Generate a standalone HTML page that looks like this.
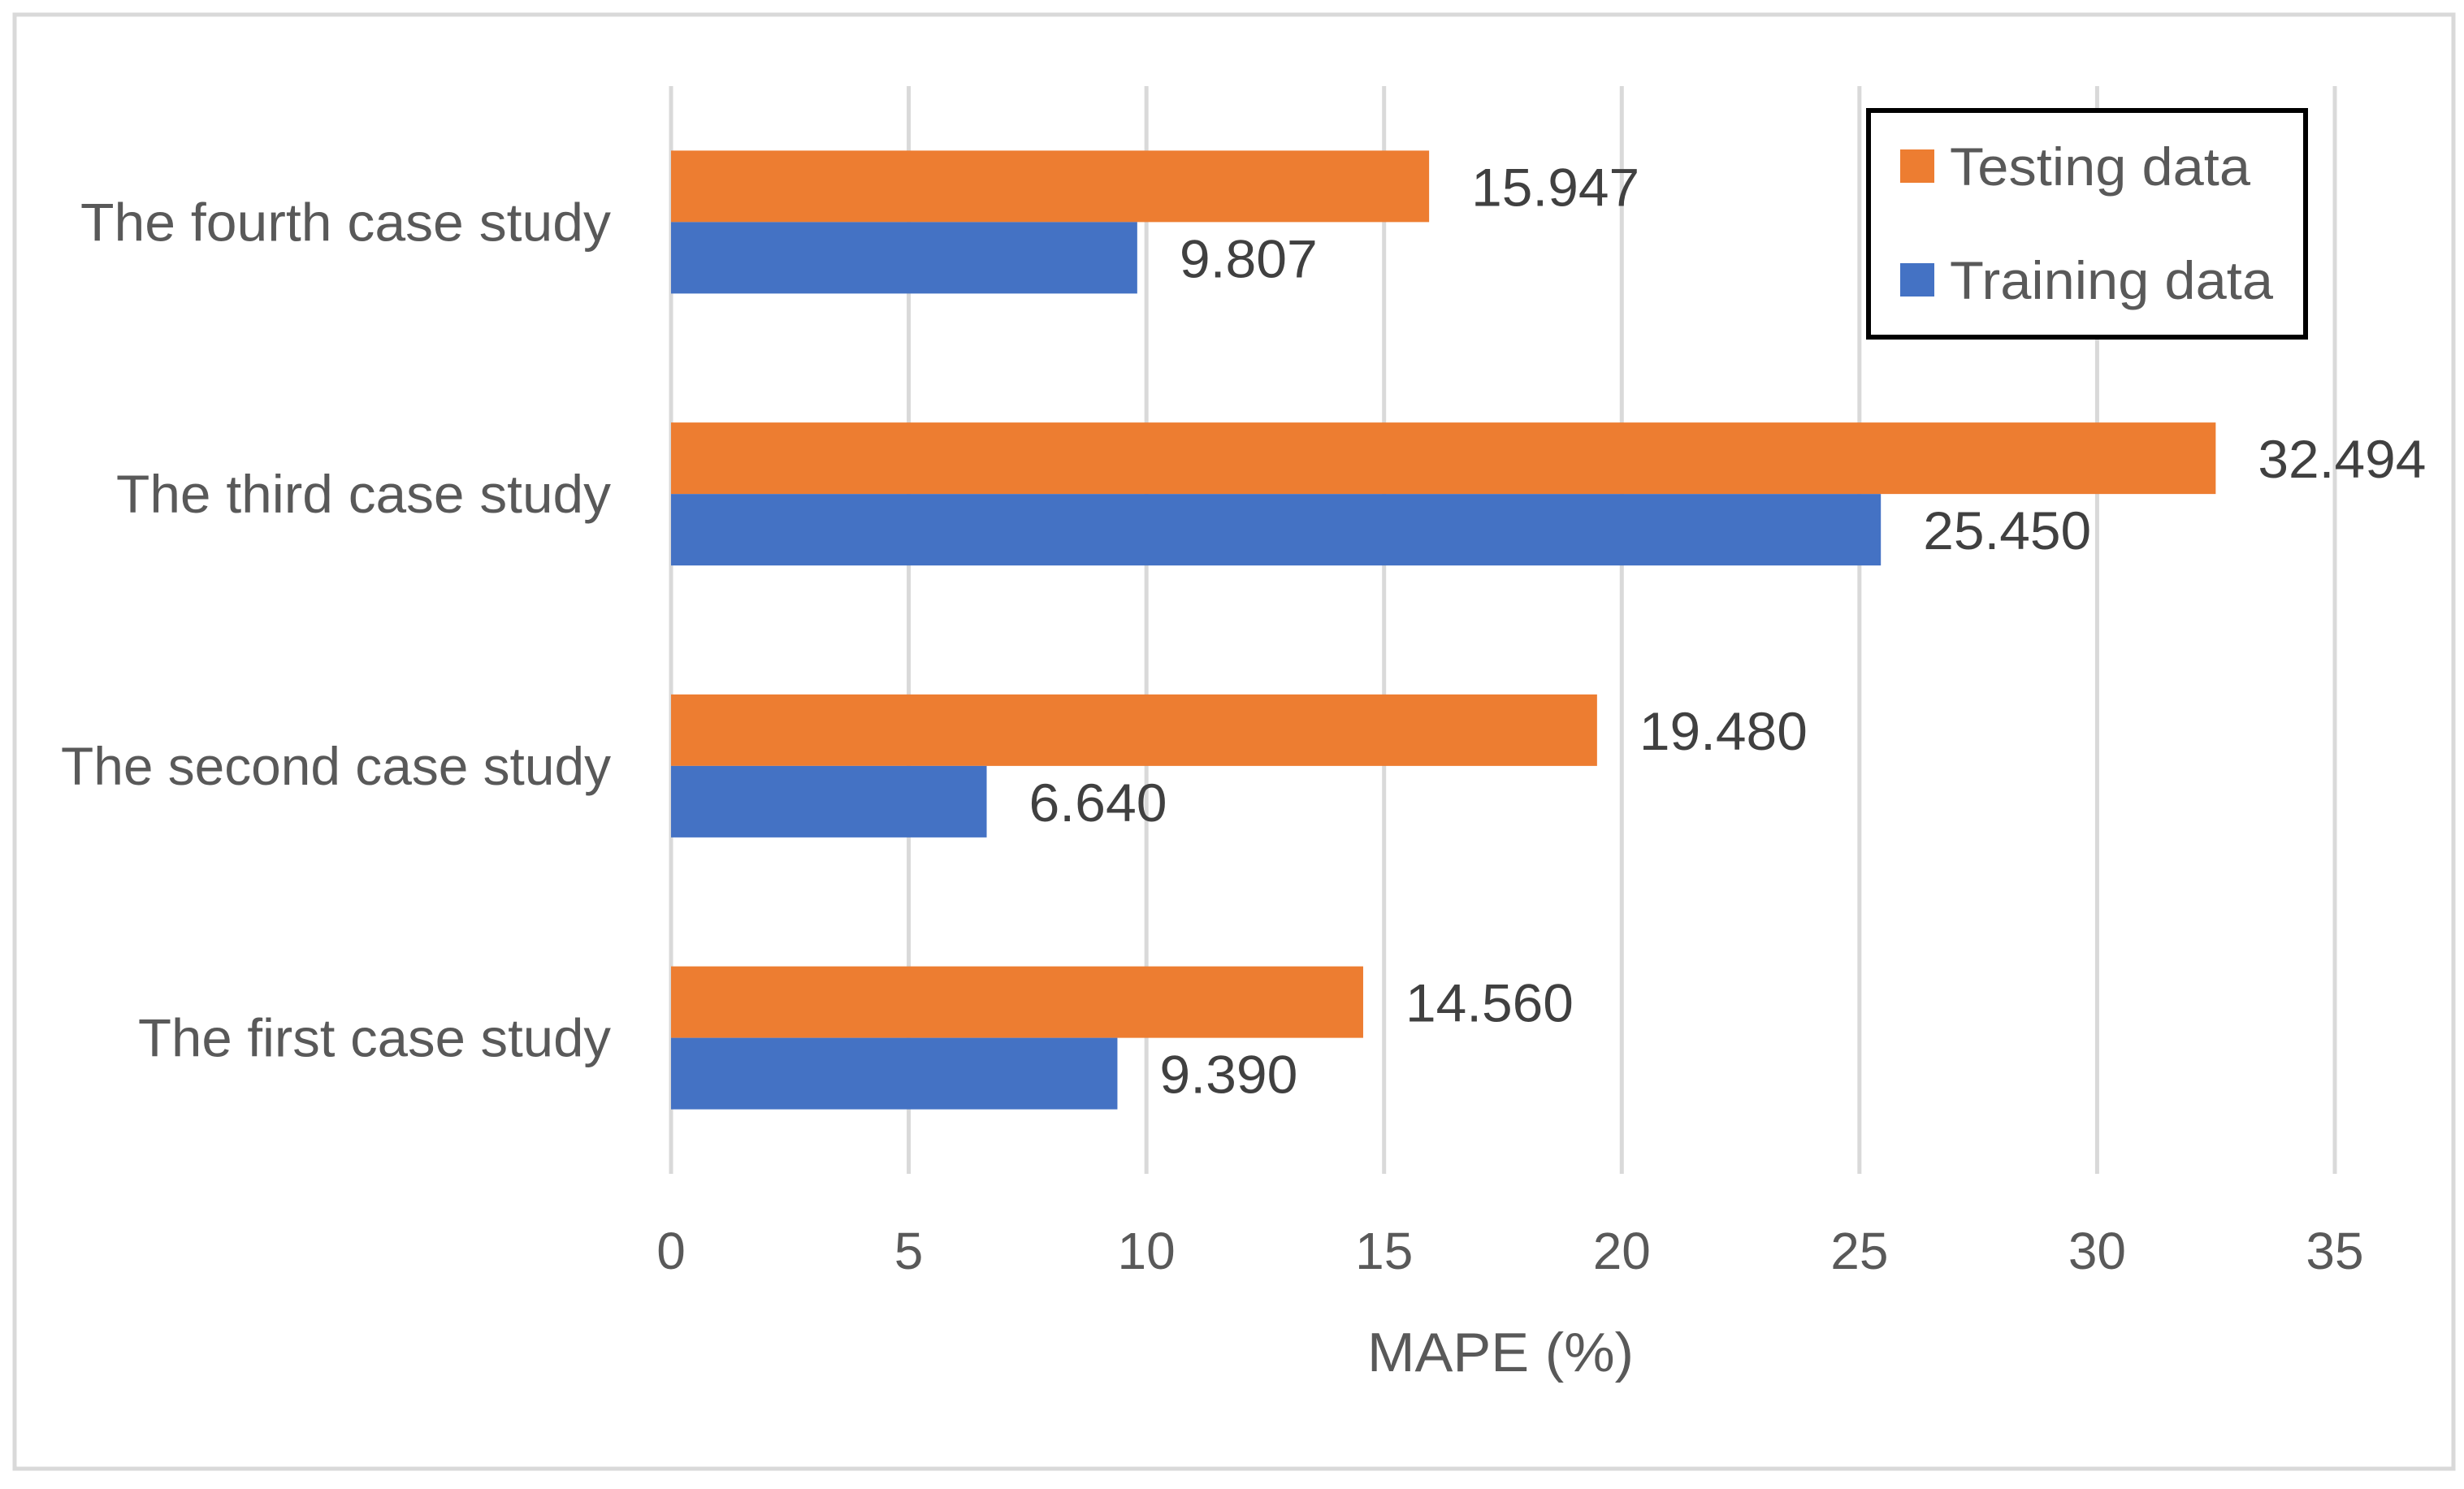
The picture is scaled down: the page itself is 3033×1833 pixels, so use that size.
<!DOCTYPE html>
<html><head><meta charset="utf-8"><style>
html,body{margin:0;padding:0;background:#fff;}
svg{display:block;font-family:"Liberation Sans",sans-serif;}
</style></head><body>
<svg id="chart" width="3033" height="1833" viewBox="0 0 3033 1833" xmlns="http://www.w3.org/2000/svg">
<rect x="18" y="18" width="3002" height="1790" fill="#fff" stroke="#D9D9D9" stroke-width="5"/>
<g id="grid"></g><g id="bars"></g><g id="labels"></g>
<text x="1847" y="1688" text-anchor="middle" font-size="68" fill="#595959" textLength="328" lengthAdjust="spacingAndGlyphs">MAPE (%)</text>
<g>
<rect x="2300" y="136" width="538" height="279" fill="#fff" stroke="#000" stroke-width="6"/>
<rect x="2339" y="184" width="42" height="41" fill="#ED7D31"/>
<text x="2400" y="228" font-size="66" fill="#595959" textLength="370" lengthAdjust="spacingAndGlyphs">Testing data</text>
<rect x="2339" y="324" width="42" height="41" fill="#4472C4"/>
<text x="2400" y="368" font-size="66" fill="#595959" textLength="398" lengthAdjust="spacingAndGlyphs">Training data</text>
</g>
</svg>
<script>
const categories = ["The first case study","The second case study","The third case study","The fourth case study"];
const testingValues = [14.560, 19.480, 32.494, 15.947];
const trainingValues = [9.390, 6.640, 25.450, 9.807];
const xTicks = [0,5,10,15,20,25,30,35];
const catLabelWidths = [582, 677, 609, 653];

const NS = "http://www.w3.org/2000/svg";
const x0 = 826, x1 = 2874, xMax = 35;
const yTop = 106, yBot = 1445;
const band = (yBot - yTop) / categories.length;
const barH = 88;
function xs(v){ return x0 + (v / xMax) * (x1 - x0); }
function yc(i){ return yBot - band * (i + 0.5); }
function mk(tag, attrs, parent){
  const e = document.createElementNS(NS, tag);
  for (const k in attrs) e.setAttribute(k, attrs[k]);
  parent.appendChild(e); return e;
}
const grid = document.getElementById('grid');
const bars = document.getElementById('bars');
const labels = document.getElementById('labels');

xTicks.forEach(t => {
  const l = mk('line', {x1: xs(t), x2: xs(t), y1: yTop, y2: yBot, stroke: '#D9D9D9', 'stroke-width': 5}, grid);
  
  
  const tx = mk('text', {x: xs(t), y: 1562, 'text-anchor': 'middle', 'font-size': 64, fill: '#595959'}, labels);
  tx.textContent = String(t);
  
  
});

categories.forEach((c, i) => {
  const cy = yc(i);
  const ct = mk('text', {x: 752, y: cy + 23, 'text-anchor': 'end', 'font-size': 66, fill: '#595959', textLength: catLabelWidths[i], lengthAdjust: 'spacingAndGlyphs'}, labels);
  ct.textContent = c;
  
  

  const ob = mk('rect', {x: xs(0), y: cy - barH, width: xs(testingValues[i]) - xs(0), height: barH, fill: '#ED7D31'}, bars);
  
  
  const bb = mk('rect', {x: xs(0), y: cy, width: xs(trainingValues[i]) - xs(0), height: barH, fill: '#4472C4'}, bars);
  
  

  const ol = mk('text', {x: xs(testingValues[i]) + 52, y: cy - barH / 2 + 24, 'font-size': 66, fill: '#404040', textLength: 207, lengthAdjust: 'spacingAndGlyphs'}, labels);
  ol.textContent = testingValues[i].toFixed(3);
  
  
  const tv = trainingValues[i].toFixed(3);
  const bl = mk('text', {x: xs(trainingValues[i]) + 52, y: cy + barH / 2 + 24, 'font-size': 66, fill: '#404040', textLength: tv.length === 5 ? 170 : 207, lengthAdjust: 'spacingAndGlyphs'}, labels);
  bl.textContent = tv;
  
  
});
</script>
</body></html>
